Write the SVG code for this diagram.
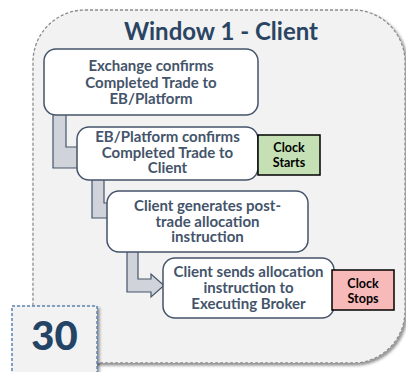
<svg xmlns="http://www.w3.org/2000/svg" width="406" height="372" viewBox="0 0 406 372">
<defs>
<filter id="sh" x="-10%" y="-10%" width="130%" height="130%">
<feDropShadow dx="2" dy="2" stdDeviation="1.5" flood-color="#000" flood-opacity="0.45"/>
</filter>
<style>
.node{fill:#ffffff;stroke:#44546a;stroke-width:1.5}
.t{font-family:Lato,"Open Sans",sans-serif;font-weight:bold;font-size:15px;fill:#44546a;text-anchor:middle}
.c{font-family:Lato,"Open Sans",sans-serif;font-weight:bold;font-size:12.5px;fill:#000;text-anchor:middle}
.conn{fill:#d0d3d9;stroke:#44546a;stroke-width:1.2;stroke-linejoin:miter}
</style>
</defs>
<rect width="406" height="372" fill="#ffffff"/>
<g id="panel">
<rect x="33" y="10" width="372" height="353" rx="52" ry="52" fill="#f2f2f2" stroke="#8c8c8c" stroke-width="1.3" stroke-dasharray="3,2" filter="url(#sh)"/>
<text x="221" y="40" font-family="Lato,'Open Sans',sans-serif" font-weight="bold" font-size="24" fill="#2a4563" text-anchor="middle">Window 1 - Client</text>
</g>
<g id="connectors">
<polygon class="conn" points="53,114 66,114 66,147 82,147 82,168 53,168"/>
<polygon class="conn" points="92,179 104,179 104,203 112,203 112,218 92,218"/>
<polygon class="conn" points="127,251 138,251 138,279 151,279 151,274 164,285.5 151,297 151,292 127,292"/>
</g>
<g id="n1">
<rect class="node" x="44" y="49" width="214" height="66" rx="12"/>
<text class="t" x="151" y="71">Exchange confirms</text>
<text class="t" x="151" y="87.5">Completed Trade to</text>
<text class="t" x="151" y="104">EB/Platform</text>
</g>
<g id="n2">
<rect class="node" x="77" y="127" width="181" height="53" rx="12"/>
<text class="t" x="167.5" y="142">EB/Platform confirms</text>
<text class="t" x="167.5" y="157.5">Completed Trade to</text>
<text class="t" x="167.5" y="173">Client</text>
</g>
<g id="clockStarts">
<rect x="258" y="135" width="62" height="40" fill="#c5e0b4" stroke="#000" stroke-width="1.5"/>
<text class="c" x="289" y="152">Clock</text>
<text class="c" x="289" y="167">Starts</text>
</g>
<g id="n3">
<rect class="node" x="107" y="191" width="201" height="61" rx="12"/>
<text class="t" x="207.5" y="211">Client generates post-</text>
<text class="t" x="207.5" y="226.5">trade allocation</text>
<text class="t" x="207.5" y="242">instruction</text>
</g>
<g id="n4">
<rect class="node" x="163" y="258" width="171" height="60" rx="12"/>
<text class="t" x="248.5" y="277">Client sends allocation</text>
<text class="t" x="248.5" y="293">instruction to</text>
<text class="t" x="248.5" y="309">Executing Broker</text>
</g>
<g id="clockStops">
<rect x="332" y="270" width="62" height="40" fill="#f8b9b9" stroke="#000" stroke-width="1.5"/>
<text class="c" x="363" y="288">Clock</text>
<text class="c" x="363" y="303">Stops</text>
</g>
<g id="badge">
<rect x="12" y="306" width="85" height="70" fill="#f2f2f2" stroke="#5a85b5" stroke-width="1.5" stroke-dasharray="3,2" filter="url(#sh)"/>
<text x="54.5" y="350" font-family="Lato,'Open Sans',sans-serif" font-weight="900" font-size="40" fill="#244466" text-anchor="middle">30</text>
</g>
</svg>
